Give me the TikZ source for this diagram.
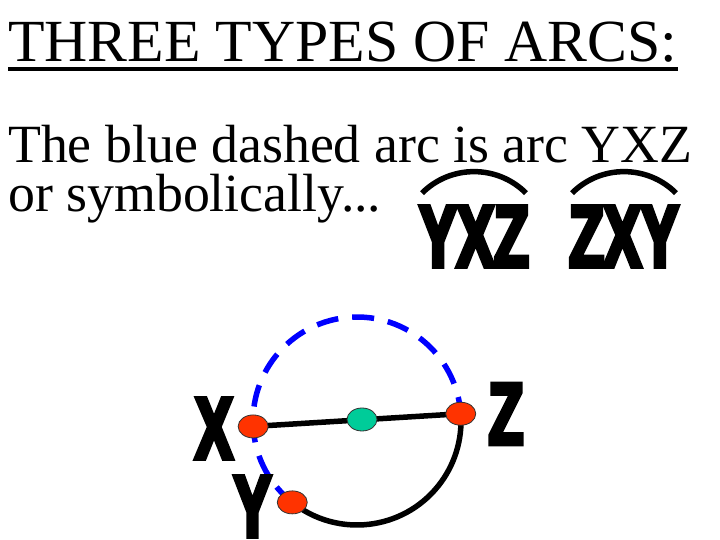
\documentclass[tikz,border=0pt]{standalone}
\usepackage{fontspec}
\setmainfont{Liberation Serif}
\newfontfamily\heavyfont[FakeStretch=0.64,FakeBold=5]{Liberation Sans Bold}
\usetikzlibrary{shapes.geometric}
\definecolor{dotred}{RGB}{255,51,0}
\definecolor{dotgreen}{RGB}{0,204,153}
\definecolor{arcblue}{RGB}{0,0,255}

\begin{document}
\begin{tikzpicture}[x=1bp, y=1bp,
   every node/.style={inner sep=0pt},
   txt/.style={anchor=base west, font=\fontsize{54}{54}\selectfont},
   bigletter/.style={font=\heavyfont\fontsize{88}{88}\selectfont},
   dot/.style={ellipse, draw=black!80, line width=0.8bp, minimum width=30bp, minimum height=23bp},
   solidarc/.style={line width=5.5bp},
   dashedarc/.style={line width=5.5bp, draw=arcblue, dash pattern=on 22bp off 14bp},
   hat/.style={line width=5.5bp}]
   \useasboundingbox (0,0) rectangle (720,540);
   % heading and text
   \node[anchor=base west, font=\fontsize{60}{60}\selectfont] (title) at (8,478) {THREE TYPES OF ARCS:};
   \draw[line width=4.5bp] ([yshift=-7bp]title.base west) -- ([yshift=-7bp]title.base east);
   \node[txt] (line1) at (8,377) {The blue dashed arc is arc YXZ};
   \node[txt] (line2) at (8,328) {or symbolically...};
   % the symbols
   \node[bigletter] (yxz) at (474,303.5) {YXZ};
   \node[bigletter] (zxy) at (624,303.5) {ZXY};
   \draw[hat] ([shift={(-52bp,13bp)}]yxz.north) to[bend left=45] ([shift={(52bp,13bp)}]yxz.north);
   \draw[hat] ([shift={(-52bp,13bp)}]zxy.north) to[bend left=45] ([shift={(52bp,13bp)}]zxy.north);
   % the circle
   \coordinate (ctr) at (357,119);
   \coordinate (x) at ([shift={(183:104)}]ctr);
   \coordinate (y) at ([shift={(231.5:104)}]ctr);
   \coordinate (z) at ([shift={(4:104)}]ctr);
   \draw[dashedarc] (y) arc[start angle=231.5, end angle=4, radius=104bp];
   \draw[solidarc] (y) arc[start angle=231.5, end angle=364, radius=104bp];
   \draw[solidarc] (x) -- (z);
   \node[dot, fill=dotred] (X) at (x) {};
   \node[dot, fill=dotred] (Y) at (y) {};
   \node[dot, fill=dotred] (Z) at (z) {};
   \node[dot, fill=dotgreen] (O) at (362,120.5) {};
   \node[bigletter] (Xname) at (214,111.5) {X};
   \node[bigletter] (Yname) at (252.5,33.5) {Y};
   \node[bigletter] (Zname) at (506,126) {Z};
\end{tikzpicture}
\end{document}
